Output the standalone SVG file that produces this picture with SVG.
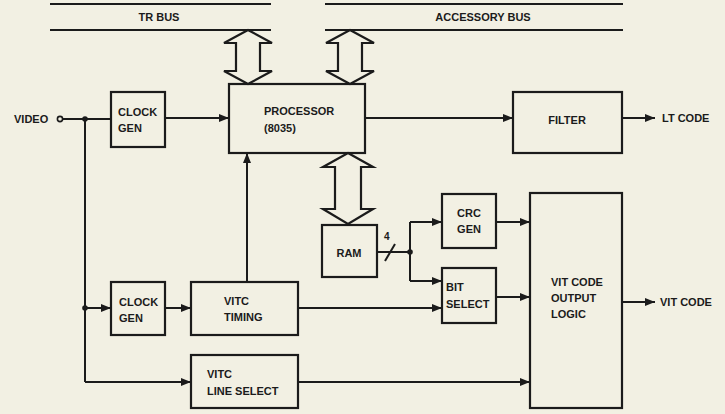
<svg xmlns="http://www.w3.org/2000/svg" width="725" height="414" viewBox="0 0 725 414">
<defs>
<style>
.bg{fill:#f2f0e3}
.box{fill:none;stroke:#1b1b1b;stroke-width:2.2}
.ln{fill:none;stroke:#1b1b1b;stroke-width:2}
.dbl{fill:#f2f0e3;stroke:#1b1b1b;stroke-width:2.2;stroke-linejoin:miter}
text{font-family:"Liberation Sans",Arial,sans-serif;font-weight:bold;font-size:11px;fill:#1b1b1b;dominant-baseline:central}
.c{text-anchor:middle}
</style>
<marker id="ah" markerUnits="userSpaceOnUse" markerWidth="11" markerHeight="9" refX="10" refY="4.5" orient="auto">
<path d="M0,0.5 L10,4.5 L0,8.5 Z" fill="#1b1b1b"/>
</marker>
</defs>
<rect class="bg" x="0" y="0" width="725" height="414"/>

<g id="tr-bus">
<line class="ln" x1="50" y1="4" x2="271" y2="4"/>
<line class="ln" x1="50" y1="30" x2="271" y2="30"/>
<text class="c" x="159" y="17">TR BUS</text>
</g>
<g id="accessory-bus">
<line class="ln" x1="325" y1="4" x2="623" y2="4"/>
<line class="ln" x1="325" y1="30" x2="623" y2="30"/>
<text class="c" x="483" y="17">ACCESSORY BUS</text>
</g>

<g id="video">
<text x="14" y="119">VIDEO</text>
<circle cx="60" cy="119" r="2.6" fill="#f2f0e3" stroke="#1b1b1b" stroke-width="1.6"/>
</g>

<g id="clock-gen-1">
<rect class="box" x="111" y="92" width="54" height="55"/>
<text x="118" y="112">CLOCK</text>
<text x="118" y="128">GEN</text>
</g>
<g id="processor">
<rect class="box" x="229" y="84" width="136" height="69"/>
<text x="264" y="111">PROCESSOR</text>
<text x="264" y="128">(8035)</text>
</g>
<g id="filter">
<rect class="box" x="513" y="92" width="109" height="61"/>
<text class="c" x="567" y="120">FILTER</text>
</g>
<g id="lt-code">
<text x="662" y="118">LT CODE</text>
</g>
<g id="ram">
<rect class="box" x="322" y="225" width="55" height="52"/>
<text class="c" x="349" y="253">RAM</text>
</g>
<g id="crc-gen">
<rect class="box" x="442" y="194" width="54" height="54"/>
<text class="c" x="469" y="213">CRC</text>
<text class="c" x="469" y="229">GEN</text>
</g>
<g id="bit-select">
<rect class="box" x="442" y="268" width="54" height="55"/>
<text x="446" y="287">BIT</text>
<text x="446" y="304">SELECT</text>
</g>
<g id="vit-code-output-logic">
<rect class="box" x="530" y="193" width="92" height="215"/>
<text x="551" y="282">VIT CODE</text>
<text x="551" y="298">OUTPUT</text>
<text x="551" y="314">LOGIC</text>
</g>
<g id="vit-code">
<text x="660" y="302">VIT CODE</text>
</g>
<g id="clock-gen-2">
<rect class="box" x="111" y="282" width="54" height="53"/>
<text x="119" y="302">CLOCK</text>
<text x="119" y="318">GEN</text>
</g>
<g id="vitc-timing">
<rect class="box" x="191" y="282" width="107" height="53"/>
<text x="224" y="301">VITC</text>
<text x="224" y="317">TIMING</text>
</g>
<g id="vitc-line-select">
<rect class="box" x="191" y="355" width="107" height="53"/>
<text x="207" y="374">VITC</text>
<text x="207" y="391">LINE SELECT</text>
</g>

<g id="connectors">
<path class="dbl" d="M248,30 L272,43 L260,43 L260,71 L272,71 L248,84 L224,71 L236,71 L236,43 L224,43 Z"/>
<path class="dbl" d="M350,30 L374,43 L362,43 L362,71 L374,71 L350,84 L326,71 L338,71 L338,43 L326,43 Z"/>
<path class="dbl" d="M348,153 L373,167 L361,167 L361,209 L373,209 L348,224 L323,209 L335,209 L335,167 L323,167 Z"/>

<line class="ln" x1="62.6" y1="119" x2="111" y2="119"/>
<circle cx="85" cy="119" r="2.8" fill="#1b1b1b"/>
<line class="ln" x1="165" y1="118" x2="229" y2="118" marker-end="url(#ah)"/>
<line class="ln" x1="365" y1="118" x2="513" y2="118" marker-end="url(#ah)"/>
<line class="ln" x1="622" y1="118" x2="655" y2="118" marker-end="url(#ah)"/>

<line class="ln" x1="85" y1="119" x2="85" y2="382"/>
<circle cx="85" cy="308" r="2.8" fill="#1b1b1b"/>
<line class="ln" x1="85" y1="308" x2="111" y2="308" marker-end="url(#ah)"/>
<line class="ln" x1="165" y1="308" x2="191" y2="308" marker-end="url(#ah)"/>
<path class="ln" d="M85,382 L191,382" marker-end="url(#ah)"/>
<line class="ln" x1="247" y1="282" x2="247" y2="153" marker-end="url(#ah)"/>

<line class="ln" x1="298" y1="308" x2="442" y2="308" marker-end="url(#ah)"/>
<line class="ln" x1="298" y1="382" x2="530" y2="382" marker-end="url(#ah)"/>

<line class="ln" x1="377" y1="252" x2="410" y2="252"/>
<line class="ln" x1="385" y1="261" x2="395" y2="244"/>
<text x="384" y="236" style="font-size:10px">4</text>
<circle cx="410" cy="252" r="2.8" fill="#1b1b1b"/>
<path class="ln" d="M410,222 L410,281"/>
<line class="ln" x1="410" y1="222" x2="442" y2="222" marker-end="url(#ah)"/>
<line class="ln" x1="410" y1="281" x2="442" y2="281" marker-end="url(#ah)"/>
<line class="ln" x1="496" y1="222" x2="530" y2="222" marker-end="url(#ah)"/>
<line class="ln" x1="496" y1="297" x2="530" y2="297" marker-end="url(#ah)"/>
<line class="ln" x1="622" y1="302" x2="655" y2="302" marker-end="url(#ah)"/>
</g>
</svg>
